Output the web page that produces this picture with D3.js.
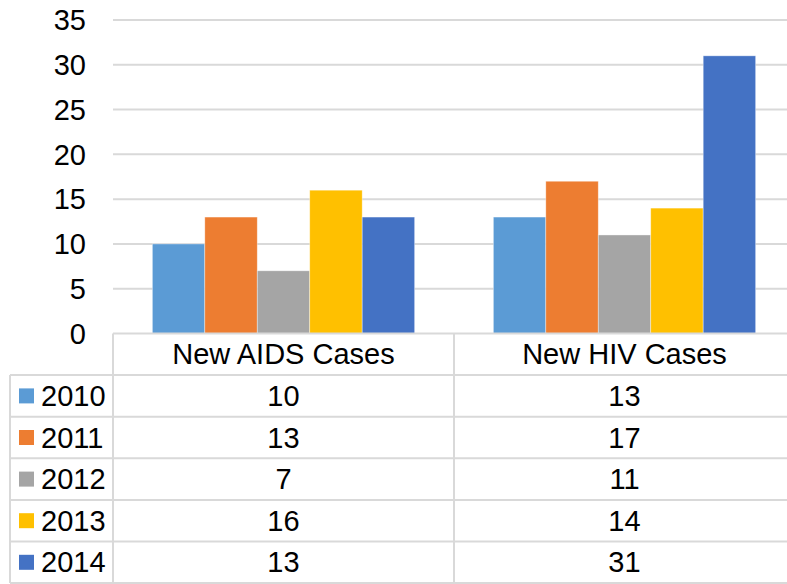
<!DOCTYPE html>
<html>
<head>
<meta charset="utf-8">
<script src="https://cdn.jsdelivr.net/npm/d3@7"></script>
<style>
  body { margin: 0; background: #fff; }
  svg { display: block; font-family: "Liberation Sans", Arial, sans-serif; }
</style>
</head>
<body>
<script>
const categories = ['New AIDS Cases', 'New HIV Cases'];
const years = ['2010', '2011', '2012', '2013', '2014'];
const aidsValues = [10, 13, 7, 16, 13];
const hivValues = [13, 17, 11, 14, 31];
const yTicks = [0, 5, 10, 15, 20, 25, 30, 35];
const colors = ['#5B9BD5', '#ED7D31', '#A5A5A5', '#FFC000', '#4472C4'];

const width = 787, height = 584;
const plotLeft = 113, plotRight = 795;
const tableLeft = 10;
const rowH = 41.6;
const fontSize = 29;
const lineColor = '#d9d9d9';

const series = years.map((year, i) => ({
  year,
  color: colors[i],
  values: [aidsValues[i], hivValues[i]]
}));

const svg = d3.select('body')
  .append('svg')
  .attr('width', width)
  .attr('height', height);

const y = d3.scaleLinear()
  .domain([0, 35])
  .range([333.5, 20]);

const x0 = d3.scaleBand()
  .domain(categories)
  .range([plotLeft, plotRight]);

const x1 = d3.scaleBand()
  .domain(years)
  .range([0, x0.bandwidth()])
  .paddingInner(0)
  .paddingOuter(0.75);

// gridlines
svg.append('g')
  .selectAll('line')
  .data(yTicks.filter((d) => d > 0))
  .join('line')
  .attr('x1', plotLeft)
  .attr('x2', plotRight)
  .attr('y1', (d) => y(d))
  .attr('y2', (d) => y(d))
  .attr('stroke', lineColor)
  .attr('stroke-width', 2);

// y labels
svg.append('g')
  .selectAll('text')
  .data(yTicks)
  .join('text')
  .attr('x', 86)
  .attr('y', (d) => y(d))
  .attr('dy', '0.35em')
  .attr('text-anchor', 'end')
  .attr('font-size', fontSize)
  .attr('fill', '#000')
  .text((d) => d);

// bars
const groups = svg.append('g')
  .selectAll('g')
  .data(categories)
  .join('g')
  .attr('transform', (d) => `translate(${x0(d)},0)`);

groups.selectAll('rect')
  .data((d, ci) => series.map((s) => ({ year: s.year, color: s.color, value: s.values[ci] })))
  .join('rect')
  .attr('x', (d) => x1(d.year))
  .attr('y', (d) => y(d.value))
  .attr('width', x1.bandwidth())
  .attr('height', (d) => y(0) - y(d.value))
  .attr('fill', (d) => d.color)
  .attr('stroke', '#fff')
  .attr('stroke-opacity', 0.5)
  .attr('stroke-width', 0.75);

// data table
const table = svg.append('g');
const tableTop = y(0);
const rowY = (i) => tableTop + rowH * (i + 1);
const tableBottom = rowY(years.length);

// horizontal lines
table.append('line')
  .attr('x1', plotLeft).attr('x2', plotRight)
  .attr('y1', tableTop).attr('y2', tableTop)
  .attr('stroke', lineColor).attr('stroke-width', 2);

table.selectAll('.hline')
  .data(d3.range(years.length + 1))
  .join('line')
  .attr('class', 'hline')
  .attr('x1', tableLeft).attr('x2', plotRight)
  .attr('y1', (i) => rowY(i)).attr('y2', (i) => rowY(i))
  .attr('stroke', lineColor).attr('stroke-width', 2);

// vertical lines
table.append('line')
  .attr('x1', tableLeft).attr('x2', tableLeft)
  .attr('y1', rowY(0)).attr('y2', tableBottom)
  .attr('stroke', lineColor).attr('stroke-width', 2);

table.selectAll('.vline')
  .data(categories.map((c) => x0(c)).concat([plotRight]))
  .join('line')
  .attr('class', 'vline')
  .attr('x1', (d) => d).attr('x2', (d) => d)
  .attr('y1', tableTop).attr('y2', tableBottom)
  .attr('stroke', lineColor).attr('stroke-width', 2);

// header
table.selectAll('.head')
  .data(categories)
  .join('text')
  .attr('class', 'head')
  .attr('x', (d) => x0(d) + x0.bandwidth() / 2)
  .attr('y', tableTop + rowH / 2)
  .attr('dy', '0.35em')
  .attr('text-anchor', 'middle')
  .attr('font-size', fontSize)
  .attr('fill', '#000')
  .text((d) => d);

// rows
const rows = table.selectAll('.row')
  .data(series)
  .join('g')
  .attr('class', 'row')
  .attr('transform', (d, i) => `translate(0,${rowY(i) + rowH / 2})`);

rows.append('rect')
  .attr('x', 19)
  .attr('y', -7.5)
  .attr('width', 15)
  .attr('height', 15)
  .attr('fill', (d) => d.color);

rows.append('text')
  .attr('x', 41)
  .attr('dy', '0.35em')
  .attr('font-size', fontSize)
  .attr('fill', '#000')
  .text((d) => d.year);

rows.selectAll('.val')
  .data((d) => d.values.map((v, ci) => ({ v, cat: categories[ci] })))
  .join('text')
  .attr('class', 'val')
  .attr('x', (d) => x0(d.cat) + x0.bandwidth() / 2)
  .attr('dy', '0.35em')
  .attr('text-anchor', 'middle')
  .attr('font-size', fontSize)
  .attr('fill', '#000')
  .text((d) => d.v);
</script>
</body>
</html>
